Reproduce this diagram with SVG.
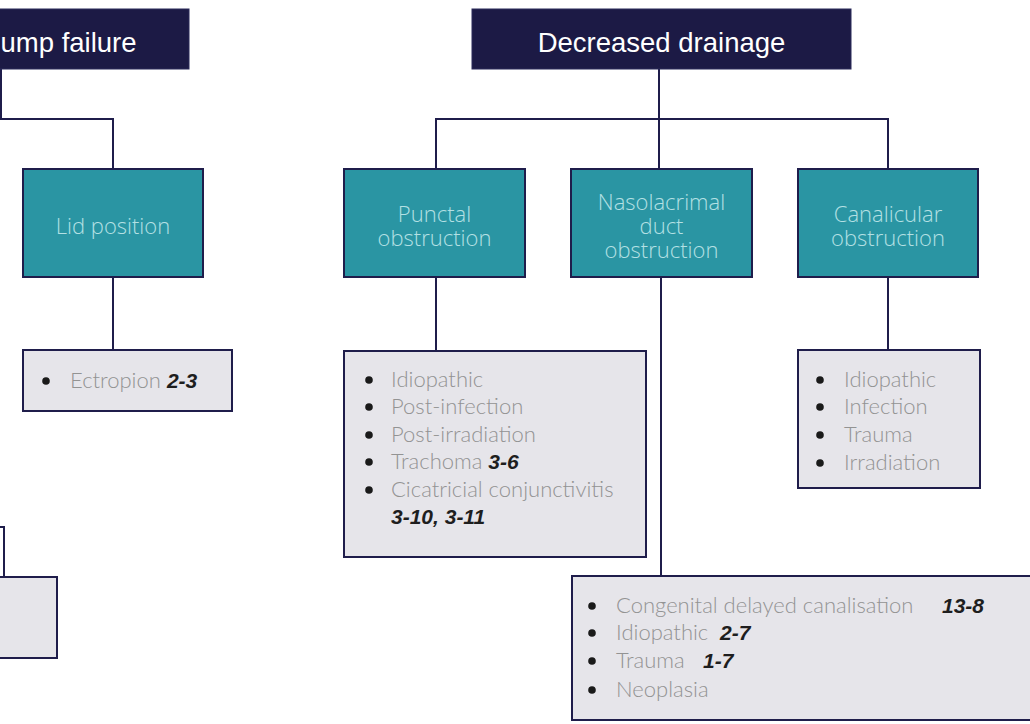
<svg xmlns="http://www.w3.org/2000/svg" width="1030" height="724" viewBox="0 0 1030 724">
<style>
.dark{fill:#1c1a45;stroke:#2b2a5a;stroke-width:1}
.head{font-family:"Liberation Sans",Arial,sans-serif;font-size:27.5px;fill:#ffffff}
.teal{fill:#2a95a3;stroke:#1f1d4b;stroke-width:2}
.tt{font-family:"Open Sans","Liberation Sans",sans-serif;font-weight:300;font-size:22px;fill:#b4e0e4;text-anchor:middle}
.list{fill:#e6e5ea;stroke:#1f1d4b;stroke-width:2}
.li{font-family:Lato,"Liberation Sans",sans-serif;font-weight:300;font-size:22px;fill:#939393}
.ref{font-family:"Liberation Sans",Arial,sans-serif;font-weight:bold;font-style:italic;font-size:21px;fill:#1e1e1e}
.dot{fill:#1a1a1a}
.conn{fill:none;stroke:#1f1d4b;stroke-width:2}
</style>
<g id="connectors">
<path class="conn" d="M1 69 V119 H113 V169"/>
<path class="conn" d="M113 277 V350"/>
<path class="conn" d="M659 69 V169"/>
<path class="conn" d="M436 169 V119 H888 V169"/>
<path class="conn" d="M436 277 V351"/>
<path class="conn" d="M661 277 V576"/>
<path class="conn" d="M888 277 V350"/>
<path class="conn" d="M-5 527 H4 V577"/>
</g>
<g id="pump-failure">
<rect class="dark" x="-20" y="9" width="209" height="60"/>
<text class="head" x="0.5" y="52">ump failure</text>
</g>
<g id="decreased-drainage">
<rect class="dark" x="472" y="9" width="379" height="60"/>
<text class="head" x="661.5" y="52" text-anchor="middle">Decreased drainage</text>
</g>
<g id="lid-position">
<rect class="teal" x="23" y="169" width="180" height="108"/>
<text class="tt" x="113" y="234">Lid position</text>
</g>
<g id="punctal">
<rect class="teal" x="344" y="169" width="181" height="108"/>
<text class="tt" y="222"><tspan x="434.5">Punctal</tspan><tspan x="434.5" dy="24">obstruction</tspan></text>
</g>
<g id="nasolacrimal">
<rect class="teal" x="571" y="169" width="181" height="108"/>
<text class="tt" y="210"><tspan x="661.5">Nasolacrimal</tspan><tspan x="661.5" dy="23.5">duct</tspan><tspan x="661.5" dy="24.5">obstruction</tspan></text>
</g>
<g id="canalicular">
<rect class="teal" x="798" y="169" width="180" height="108"/>
<text class="tt" y="222"><tspan x="888">Canalicular</tspan><tspan x="888" dy="24">obstruction</tspan></text>
</g>
<g id="ectropion-list">
<rect class="list" x="23" y="350" width="209" height="61"/>
<circle class="dot" cx="46" cy="381" r="3.8"/>
<text class="li" x="70" y="388">Ectropion <tspan class="ref">2-3</tspan></text>
</g>
<g id="punctal-list">
<rect class="list" x="344" y="351" width="302" height="206"/>
<circle class="dot" cx="369" cy="380" r="3.8"/>
<circle class="dot" cx="369" cy="407" r="3.8"/>
<circle class="dot" cx="369" cy="435" r="3.8"/>
<circle class="dot" cx="369" cy="462" r="3.8"/>
<circle class="dot" cx="369" cy="490" r="3.8"/>
<text class="li" x="391" y="387">Idiopathic</text>
<text class="li" x="391" y="414">Post-infection</text>
<text class="li" x="391" y="442">Post-irradiation</text>
<text class="li" x="391" y="469">Trachoma <tspan class="ref">3-6</tspan></text>
<text class="li" x="391" y="497">Cicatricial conjunctivitis</text>
<text class="li" x="391" y="524"><tspan class="ref">3-10, 3-11</tspan></text>
</g>
<g id="canalicular-list">
<rect class="list" x="798" y="350" width="182" height="138"/>
<circle class="dot" cx="820" cy="380" r="3.8"/>
<circle class="dot" cx="820" cy="407" r="3.8"/>
<circle class="dot" cx="820" cy="435" r="3.8"/>
<circle class="dot" cx="820" cy="463" r="3.8"/>
<text class="li" x="844" y="387">Idiopathic</text>
<text class="li" x="844" y="414">Infection</text>
<text class="li" x="844" y="442">Trauma</text>
<text class="li" x="844" y="470">Irradiation</text>
</g>
<g id="nasolacrimal-list">
<rect class="list" x="572" y="576" width="470" height="144"/>
<circle class="dot" cx="592" cy="606" r="3.8"/>
<circle class="dot" cx="592" cy="633" r="3.8"/>
<circle class="dot" cx="592" cy="661" r="3.8"/>
<circle class="dot" cx="592" cy="690" r="3.8"/>
<text class="li" x="616" y="613">Congenital delayed canalisation <tspan class="ref" x="942">13-8</tspan></text>
<text class="li" x="616" y="640">Idiopathic <tspan class="ref" x="720">2-7</tspan></text>
<text class="li" x="616" y="668">Trauma <tspan class="ref" x="703">1-7</tspan></text>
<text class="li" x="616" y="697">Neoplasia</text>
</g>
<g id="lower-left-list">
<rect class="list" x="-10" y="577" width="67" height="81"/>
</g>
</svg>
